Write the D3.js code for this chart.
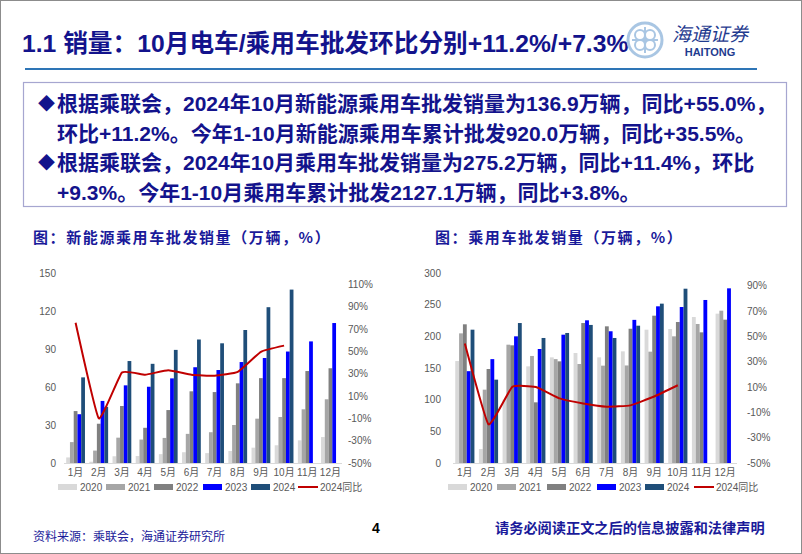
<!DOCTYPE html>
<html>
<head>
<meta charset="utf-8">
<script src="https://cdn.jsdelivr.net/npm/d3@7"></script>
<style>
html,body{margin:0;padding:0;background:#fff;}
svg{display:block;}
</style>
</head>
<body>
<svg id="c" width="802" height="554"></svg>
<script>
// ---------- data ----------
const months = ['1月','2月','3月','4月','5月','6月','7月','8月','9月','10月','11月','12月'];
const seriesNames = ['2020','2021','2022','2023','2024'];
const lineName = '2024同比';

// NEV passenger vehicle wholesale (万辆)
const nev2020 = [4.4, 1.0, 5.3, 5.5, 7.0, 8.5, 7.8, 9.5, 12.1, 14.0, 17.9, 20.5];
const nev2021 = [16.5, 9.8, 20.0, 18.5, 19.8, 23.0, 24.3, 30.0, 35.0, 36.3, 42.4, 50.3];
const nev2022 = [41.0, 31.0, 45.0, 27.8, 41.8, 56.6, 56.0, 62.9, 67.0, 67.0, 72.6, 74.8];
const nev2023 = [38.5, 49.0, 61.3, 60.2, 66.8, 75.6, 73.4, 79.7, 82.9, 88.0, 96.0, 110.5];
const nev2024 = [67.6, 44.3, 80.5, 78.3, 89.3, 97.5, 94.5, 105.0, 123.0, 136.9];
const nevYoY  = [75.5, -10.0, 31.0, 29.0, 33.0, 29.0, 28.0, 31.5, 49.5, 55.0];
const nevLeftTicks = [0, 30, 60, 90, 120, 150];
const nevRightTicks = [-50, -30, -10, 10, 30, 50, 70, 90, 110];

// Passenger vehicle wholesale (万辆)
const pv2020 = [161.0, 22.0, 100.0, 152.6, 166.8, 173.7, 166.8, 176.3, 210.5, 211.6, 230.5, 235.8];
const pv2021 = [204.7, 115.8, 186.8, 169.0, 164.0, 156.3, 153.7, 154.0, 175.8, 200.0, 219.5, 240.5];
const pv2022 = [219.0, 148.4, 185.8, 95.8, 160.5, 221.0, 215.8, 212.0, 232.6, 222.6, 206.3, 226.3];
const pv2023 = [145.0, 164.0, 200.0, 180.0, 202.6, 225.3, 208.0, 226.0, 247.4, 246.3, 257.4, 275.8];
const pv2024 = [210.5, 131.6, 221.0, 197.4, 205.3, 218.0, 197.4, 216.8, 251.6, 275.2];
const pvYoY  = [44.3, -19.5, 10.0, 10.0, 1.0, -3.0, -5.5, -4.5, 2.5, 11.4];
const pvLeftTicks = [0, 50, 100, 150, 200, 250, 300];
const pvRightTicks = [-50, -30, -10, 10, 30, 50, 70, 90];

// ---------- styles ----------
const barColors = ['#D9D9D9', '#A6A6A6', '#808080', '#0000FF', '#1F4E79'];
const lineColor = '#C00000';
const navy = '#13138C';
const axisGray = '#595959';
const FONT = '"Liberation Sans", Arial, "Noto Sans CJK SC", sans-serif';

const svg = d3.select('#c');

// slide border
svg.append('rect').attr('x',0.5).attr('y',0.5).attr('width',801).attr('height',553)
  .attr('fill','none').attr('stroke','#8c8c8c').attr('stroke-width',1);

// ---------- header ----------
svg.append('text').attr('x',22).attr('y',52)
  .attr('font-family',FONT).attr('font-weight','bold').attr('font-size',24.7)
  .attr('fill',navy).text('1.1 销量：10月电车/乘用车批发环比分别+11.2%/+7.3%');

svg.append('line').attr('x1',25).attr('x2',757).attr('y1',69).attr('y2',69)
  .attr('stroke','#2E75B6').attr('stroke-width',2);

// logo
const logo = svg.append('g').attr('transform','translate(645,40)');
logo.append('circle').attr('r',17).attr('fill','none').attr('stroke','#A9C6E3').attr('stroke-width',3);
[[-5,-5],[5,-5],[-5,5],[5,5]].forEach(([dx,dy])=>{
  logo.append('circle').attr('cx',dx).attr('cy',dy).attr('r',5).attr('fill','none')
    .attr('stroke','#A9C6E3').attr('stroke-width',2);
});
logo.append('line').attr('x1',0).attr('x2',0).attr('y1',-13).attr('y2',13).attr('stroke','#A9C6E3').attr('stroke-width',2);
logo.append('line').attr('x1',-13).attr('x2',13).attr('y1',0).attr('y2',0).attr('stroke','#A9C6E3').attr('stroke-width',2);
svg.append('text').attr('x',710).attr('y',41).attr('text-anchor','middle')
  .attr('font-family','"Noto Sans CJK SC", sans-serif').attr('font-size',19).attr('font-style','italic')
  .attr('fill','#1F3B8F').text('海通证券');
svg.append('text').attr('x',710).attr('y',56).attr('text-anchor','middle')
  .attr('font-family',FONT).attr('font-weight','bold').attr('font-size',11)
  .attr('fill','#1F3B8F').text('HAITONG');

// ---------- text box ----------
svg.append('rect').attr('x',23.5).attr('y',82.5).attr('width',763).attr('height',124)
  .attr('fill','none').attr('stroke','#A6A6D0').attr('stroke-width',1.2);

const bodyLines = [
  {x:38, bullet:true, t:'根据乘联会，2024年10月新能源乘用车批发销量为136.9万辆，同比+55.0%，'},
  {x:57, bullet:false, t:'环比+11.2%。今年1-10月新能源乘用车累计批发920.0万辆，同比+35.5%。'},
  {x:38, bullet:true, t:'根据乘联会，2024年10月乘用车批发销量为275.2万辆，同比+11.4%，环比'},
  {x:57, bullet:false, t:'+9.3%。今年1-10月乘用车累计批发2127.1万辆，同比+3.8%。'}
];
bodyLines.forEach((l,i)=>{
  const y = 111 + i*29.5;
  if (l.bullet) {
    svg.append('text').attr('x',l.x).attr('y',y-1).attr('font-family',FONT)
      .attr('font-size',17).attr('fill',navy).text('◆');
    svg.append('text').attr('x',l.x+19).attr('y',y).attr('font-family',FONT)
      .attr('font-weight','bold').attr('font-size',21).attr('fill',navy).text(l.t);
  } else {
    svg.append('text').attr('x',l.x).attr('y',y).attr('font-family',FONT)
      .attr('font-weight','bold').attr('font-size',21).attr('fill',navy).text(l.t);
  }
});

// ---------- charts ----------
function drawChart(cfg) {
  const g = svg.append('g');
  g.append('text').attr('x',cfg.titleX).attr('y',243)
    .attr('font-family','"Noto Sans CJK SC", sans-serif').attr('font-weight','bold')
    .attr('font-size',15).attr('letter-spacing',1.6).attr('fill','#1A1A9A').text(cfg.title);

  const top = 273, bot = 463;
  const x = d3.scaleBand().domain(months).range([cfg.x0, cfg.x1]).paddingInner(0).paddingOuter(0);
  const groupW = x.bandwidth()*0.81;
  const xs = d3.scaleBand().domain(seriesNames).range([0, groupW]).padding(0);
  const yL = d3.scaleLinear().domain(cfg.leftDomain).range([bot, top]);
  const yR = d3.scaleLinear().domain(cfg.rightDomain).range([bot, top]);

  // bars
  cfg.series.forEach((arr, si) => {
    g.append('g').selectAll('rect').data(arr).join('rect')
      .attr('x', (d,i) => x(months[i]) + (x.bandwidth()-groupW)/2 + xs(seriesNames[si]))
      .attr('width', xs.bandwidth())
      .attr('y', d => yL(d))
      .attr('height', d => bot - yL(d))
      .attr('fill', barColors[si]);
  });

  // baseline
  g.append('line').attr('x1',cfg.x0).attr('x2',cfg.x1).attr('y1',bot+0.5).attr('y2',bot+0.5)
    .attr('stroke','#D9D9D9').attr('stroke-width',1);

  // left axis
  const axL = g.append('g').attr('transform',`translate(${cfg.leftAxisX},0)`)
    .call(d3.axisLeft(yL).tickValues(cfg.leftTicks).tickSize(0).tickPadding(0));
  axL.select('.domain').remove();
  axL.selectAll('text').attr('font-family',FONT).attr('font-size',10).attr('fill',axisGray);

  // right axis
  const axR = g.append('g').attr('transform',`translate(${cfg.rightAxisX},0)`)
    .call(d3.axisRight(yR).tickValues(cfg.rightTicks).tickSize(0).tickPadding(0).tickFormat(d => d + '%'));
  axR.select('.domain').remove();
  axR.selectAll('text').attr('font-family',FONT).attr('font-size',10).attr('fill',axisGray);

  // x axis
  const axX = g.append('g').attr('transform',`translate(0,${bot+6})`)
    .call(d3.axisBottom(x).tickSize(0).tickPadding(0));
  axX.select('.domain').remove();
  axX.selectAll('text').attr('font-family',FONT).attr('font-size',10).attr('fill',axisGray).attr('dy','0.71em');

  // yoy line
  const line = d3.line()
    .x((d,i) => x(months[i]) + x.bandwidth()/2)
    .y(d => yR(d))
    .curve(d3.curveCardinal.tension(0.65));
  g.append('path').datum(cfg.yoy).attr('d', line)
    .attr('fill','none').attr('stroke',lineColor).attr('stroke-width',2);

  // legend
  const ly = 487;
  seriesNames.forEach((n, i) => {
    const lx = cfg.legendX[i];
    g.append('rect').attr('x',lx).attr('y',ly-3).attr('width',19).attr('height',6).attr('fill',barColors[i]);
    g.append('text').attr('x',lx+22).attr('y',ly+3.5).attr('font-family',FONT).attr('font-size',10)
      .attr('fill',axisGray).text(n);
  });
  const llx = cfg.legendX[5];
  g.append('line').attr('x1',llx).attr('x2',llx+20).attr('y1',ly).attr('y2',ly)
    .attr('stroke',lineColor).attr('stroke-width',2);
  g.append('text').attr('x',llx+22).attr('y',ly+3.5).attr('font-family',FONT).attr('font-size',10)
    .attr('fill',axisGray).text(lineName);
}

drawChart({
  title:'图：新能源乘用车批发销量（万辆，%）', titleX:33,
  x0:64, x1:342,
  leftDomain:[0,150], leftTicks:nevLeftTicks,
  rightDomain:[-50,120], rightTicks:nevRightTicks,
  series:[nev2020, nev2021, nev2022, nev2023, nev2024],
  yoy:nevYoY,
  leftAxisX:56, rightAxisX:348,
  legendX:[58,106,154,203,251,298]
});

drawChart({
  title:'图：乘用车批发销量（万辆，%）', titleX:435,
  x0:453, x1:737,
  leftDomain:[0,300], leftTicks:pvLeftTicks,
  rightDomain:[-50,100], rightTicks:pvRightTicks,
  series:[pv2020, pv2021, pv2022, pv2023, pv2024],
  yoy:pvYoY,
  leftAxisX:441, rightAxisX:747,
  legendX:[448,497,547,597,645,694]
});

// ---------- footer ----------
svg.append('text').attr('x',33).attr('y',541)
  .attr('font-family','"Noto Sans CJK SC", sans-serif').attr('font-size',12).attr('fill','#1A1A9A')
  .text('资料来源：乘联会，海通证券研究所');
svg.append('text').attr('x',372).attr('y',533)
  .attr('font-family',FONT).attr('font-weight','bold').attr('font-size',14).attr('fill','#000')
  .text('4');
svg.append('text').attr('x',495).attr('y',533)
  .attr('font-family','"Noto Sans CJK SC", sans-serif').attr('font-weight','bold').attr('font-size',14.2).attr('fill','#1A1A9A')
  .text('请务必阅读正文之后的信息披露和法律声明');
</script>
</body>
</html>
